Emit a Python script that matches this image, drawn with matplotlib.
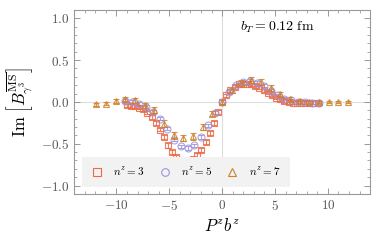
import matplotlib
matplotlib.use('Agg')
import matplotlib.pyplot as plt
from matplotlib.lines import Line2D
from matplotlib.ticker import MultipleLocator, FuncFormatter

plt.rcParams['mathtext.fontset'] = 'cm'
plt.rcParams['font.family'] = 'DejaVu Serif'

# n^z = 3 (squares)
x3 = [-9.03, -8.64, -8.25, -7.85, -7.46, -7.07, -6.68, -6.28, -5.89, -5.50, -5.11, -4.71,
      -4.32, -3.93, -3.53, -3.14, -2.75, -2.36, -1.96, -1.57, -1.18, -0.79, -0.39, 0.0,
      0.39, 0.79, 1.18, 1.57, 1.96, 2.36, 2.75, 3.14, 3.53, 3.93, 4.32, 4.71, 5.11, 5.50,
      5.89, 6.28, 6.68, 7.07, 7.46, 7.85, 8.25, 8.64, 9.03]
y3 = [-0.04, -0.05, -0.05, -0.07, -0.09, -0.13, -0.18, -0.25, -0.33, -0.42, -0.52, -0.60,
      -0.66, -0.70, -0.71, -0.70, -0.68, -0.64, -0.57, -0.48, -0.37, -0.25, -0.12, 0.0,
      0.08, 0.14, 0.18, 0.21, 0.22, 0.22, 0.21, 0.19, 0.17, 0.14, 0.11, 0.08, 0.05, 0.03,
      0.01, 0.0, -0.01, -0.01, -0.01, -0.01, -0.01, -0.01, -0.01]
e3 = [0.02] * 10 + [0.025] * 14 + [0.02] * 23

# n^z = 5 (circles)
x5 = [-9.16, -8.51, -7.85, -7.20, -6.54, -5.89, -5.24, -4.58, -3.93, -3.27, -2.62, -1.96,
      -1.31, -0.65, 0.0, 0.65, 1.31, 1.96, 2.62, 3.27, 3.93, 4.58, 5.24, 5.89, 6.54, 7.20,
      7.85, 8.51, 9.16]
y5 = [0.01, 0.0, -0.02, -0.06, -0.12, -0.20, -0.32, -0.45, -0.53, -0.55, -0.52, -0.42,
      -0.28, -0.13, 0.0, 0.12, 0.20, 0.24, 0.25, 0.23, 0.19, 0.13, 0.08, 0.04, 0.02, 0.0,
      0.0, -0.01, -0.01]
e5 = [0.02] * 29

# n^z = 7 (triangles)
x7 = [-11.91, -10.99, -10.08, -9.16, -8.25, -7.33, -6.41, -5.50, -4.58, -3.67, -2.75,
      -1.83, -0.92, 0.0, 0.92, 1.83, 2.75, 3.67, 4.58, 5.50, 6.41, 7.33, 8.25, 9.16,
      10.08, 10.99, 11.91]
y7 = [-0.03, -0.02, 0.01, 0.04, 0.02, -0.04, -0.10, -0.26, -0.40, -0.43, -0.41, -0.30,
      -0.14, 0.0, 0.14, 0.23, 0.26, 0.24, 0.17, 0.09, 0.04, 0.01, 0.0, 0.0, 0.0, 0.0, 0.0]
e7 = [0.02, 0.02, 0.02, 0.025, 0.03, 0.03, 0.035, 0.04, 0.04, 0.04, 0.04, 0.035,
      0.03, 0.03, 0.03, 0.035, 0.04, 0.04, 0.035, 0.03, 0.025, 0.02, 0.02, 0.015,
      0.015, 0.015, 0.015]

series = [
    (x3, y3, e3, 's', '#ec6a45', r'$n^z=3$'),
    (x5, y5, e5, 'o', '#9d94dc', r'$n^z=5$'),
    (x7, y7, e7, '^', '#d0812a', r'$n^z=7$'),
]

fig = plt.figure(figsize=(3.82, 2.43), dpi=100)
ax = fig.add_axes([0.194, 0.202, 0.775, 0.757])

ax.axhline(0, color='#dddddd', lw=0.8, zorder=0)
ax.axvline(0, color='#dddddd', lw=0.8, zorder=0)

handles = []
for x, y, e, m, c, lab in series:
    ax.errorbar(x, y, yerr=e, fmt=m, ms=5, mfc='none', mec=c, mew=0.8,
                ecolor=c, elinewidth=0.8, capsize=2, capthick=0.8, alpha=0.85)
    handles.append(Line2D([], [], ls='none', marker=m, ms=5.5, mfc='none', mec=c,
                          mew=0.8, label=lab))

ax.set_xlim(-14, 14)
ax.set_ylim(-1.1, 1.1)
ax.xaxis.set_major_locator(MultipleLocator(5))
ax.xaxis.set_minor_locator(MultipleLocator(1))
ax.yaxis.set_major_locator(MultipleLocator(0.5))
ax.yaxis.set_minor_locator(MultipleLocator(0.1))
ax.xaxis.set_major_formatter(FuncFormatter(lambda v, p: r'$%d$' % round(v)))
ax.yaxis.set_major_formatter(FuncFormatter(lambda v, p: r'$%.1f$' % v))
ax.tick_params(which='both', direction='in', top=True, right=True, colors='#888888',
               labelcolor='#555555', labelsize=9.5)
ax.tick_params(which='major', length=4, width=0.6)
ax.tick_params(which='minor', length=2, width=0.5)
for s in ax.spines.values():
    s.set_color('#999999')
    s.set_linewidth(0.8)

ax.set_xlabel(r'$P^z b^z$', fontsize=12)
ax.set_ylabel(r'$\mathrm{Im}\ \left[B^{\overline{\rm MS}}_{\gamma^3}\right]$', fontsize=12)

ax.text(1.7, 0.89, r'$b_T = 0.12\ \mathrm{fm}$', fontsize=10, va='center')

leg = ax.legend(handles=handles, loc='lower left', bbox_to_anchor=(0.027, 0.038),
                ncol=3, frameon=True, fancybox=False, fontsize=8, borderaxespad=0,
                handlelength=1.0, handletextpad=1.0, columnspacing=1.3, borderpad=0.8)
leg.get_frame().set_facecolor('#f2f2f2')
leg.get_frame().set_edgecolor('none')
leg.get_frame().set_alpha(1)

fig.savefig('out.png', dpi=100)
